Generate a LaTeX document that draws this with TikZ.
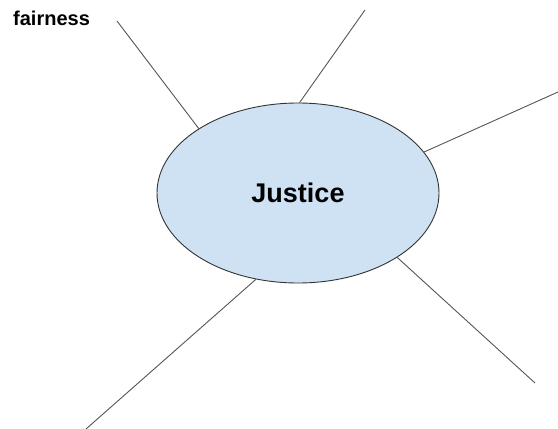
\documentclass[tikz,border=0pt]{standalone}
\usepackage{fontspec}
\setmainfont{Liberation Sans}
\usetikzlibrary{shapes.geometric}
\definecolor{ovalfill}{HTML}{CFE2F3}
\definecolor{spokegray}{HTML}{555555}
\tikzset{
  spoke/.style={draw=spokegray, line width=0.9pt},
  oval/.style={ellipse, draw=black!80, line width=0.9pt, fill=ovalfill,
    minimum width=282pt, minimum height=180pt, inner sep=0pt}
}
\begin{document}
\begin{tikzpicture}[x=1pt,y=-1pt]
        \useasboundingbox (0,0) rectangle (558,429);

        %Ellipse
        \node[oval] (justice) at (298,193) {\bfseries\fontsize{27}{32}\selectfont Justice};

        %Beschriftung
        \node[anchor=base west, inner sep=0pt] (fair) at (13,25) {\bfseries\fontsize{20}{24}\selectfont fairness};

        %Enden
        \coordinate (e1) at (117,21);
        \coordinate (e2) at (365,10);
        \coordinate (e3) at (558,92);
        \coordinate (e4) at (535,383);
        \coordinate (e5) at (86,429);

        %Linien
        \draw[spoke] (justice.147) -- (e1);
        \draw[spoke] (justice.89) -- (e2);
        \draw[spoke] (justice.18) -- (e3);
        \draw[spoke] (justice.-33) -- (e4);
        \draw[spoke] (justice.-116) -- (e5);
    \end{tikzpicture}
\end{document}
